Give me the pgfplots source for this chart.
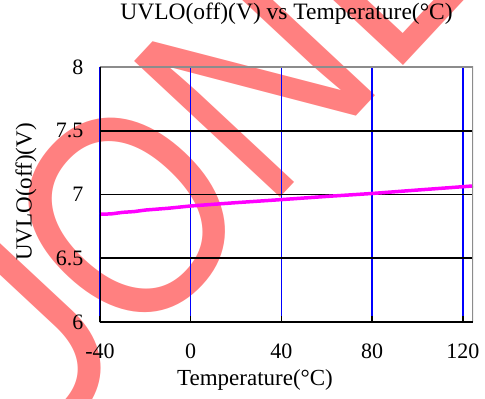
\documentclass[border=0pt]{standalone}
\usepackage{pgfplots}
\pgfplotsset{compat=1.18}
\usepackage{fontspec}
\setmainfont{Liberation Serif}
\newfontfamily\wmfont{Liberation Sans}
\definecolor{wm}{RGB}{255,128,128}
\definecolor{frgray}{RGB}{140,140,140}
\begin{document}
\begin{tikzpicture}[x=1pt,y=1pt]
\begin{scope}[shift={(34.5,-32.2)}, rotate=47, xscale=0.86]
\node[anchor=base west, transform shape, text=wm, inner sep=0pt] at (0,0) {\wmfont\fontsize{290}{290}\selectfont ONLY};
\node[anchor=base east, transform shape, text=wm, inner sep=0pt] at (10,0) {\wmfont\fontsize{290}{290}\selectfont U};
\end{scope}
\begin{axis}[
  at={(0,0)}, anchor=south west,
  scale only axis, width=373pt, height=255pt,
  xmin=-40, xmax=124.5, ymin=6, ymax=8,
  xtick={-40,0,40,80,120}, ytick={6,6.5,7,7.5,8},
  yticklabels={6,6.5,7,7.5,8},
  xtick pos=bottom, ytick pos=left,
  tick align=inside,
  major tick length=6pt,
  tick style={black, line width=1.6pt},
  axis line style={draw=none},
  xmajorgrids, ymajorgrids,
  x grid style={blue, line width=1.6pt},
  y grid style={black, line width=1.6pt},
  /pgf/number format/assume math mode=true,
  ticklabel style={font=\fontsize{22}{26}\selectfont},
  xticklabel style={anchor=north, yshift=-18pt},
  yticklabel style={anchor=east, xshift=-13pt},
  title={UVLO(off)(V) vs Temperature(°C)},
  title style={font=\fontsize{23.5}{28}\selectfont, at={(0.5,1.1843)}, anchor=center},
  xlabel={Temperature(°C)},
  xlabel style={font=\fontsize{23}{28}\selectfont, at={(0.4155,-0.2275)}, anchor=center},
  ylabel={UVLO(off)(V)},
  ylabel style={font=\fontsize{23}{28}\selectfont, at={(-0.1984,0.51)}, anchor=center},
]
\addplot[color={rgb,255:red,255;green,0;blue,255}, line width=3.5pt] coordinates {
(-40,6.845) (-35,6.848) (-30,6.860) (-25,6.866) (-20,6.878) (-10,6.892)
(0,6.910) (20,6.936) (40,6.960) (60,6.985) (80,7.008) (100,7.035) (124.5,7.067)
};
\draw[frgray, line width=2pt] (rel axis cs:0,1) -- (rel axis cs:1,1) -- (rel axis cs:1,0);
\draw[black, line width=2.2pt] (rel axis cs:0,1) -- (rel axis cs:0,0) -- (rel axis cs:1,0);
\end{axis}
\pgfresetboundingbox
\path[use as bounding box] (-100,-77) rectangle (385,322);
\end{tikzpicture}
\end{document}
